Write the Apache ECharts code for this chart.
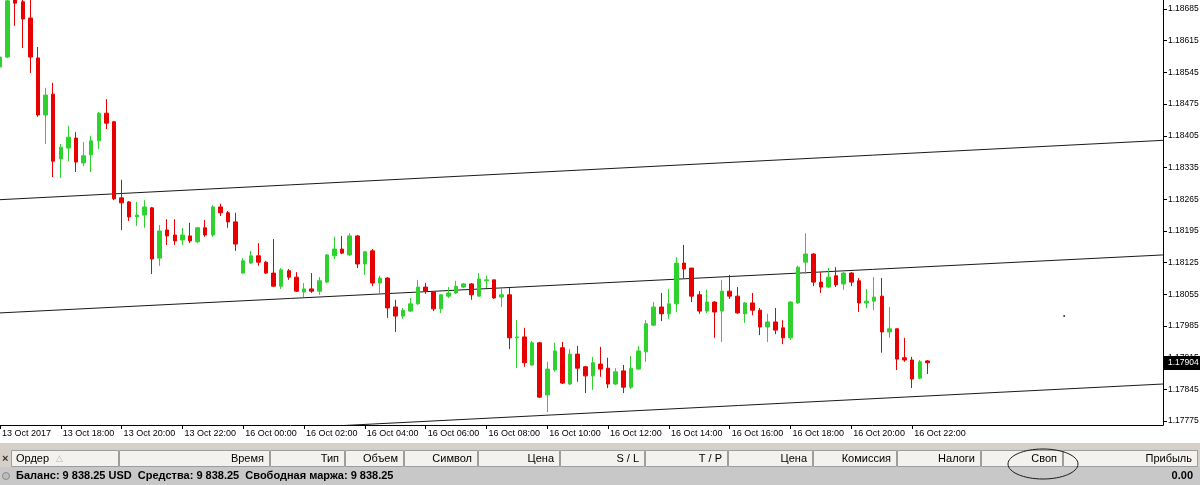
<!DOCTYPE html>
<html><head><meta charset="utf-8">
<script src="https://cdn.jsdelivr.net/npm/echarts@6/dist/echarts.min.js"></script>
<style>html,body{margin:0;padding:0;background:#fff;overflow:hidden}#c{width:1200px;height:485px}</style>
</head><body><div id="c"></div>
<script>
// ---- data (EURUSD, M15) ----
const open = [1.18557,1.18579,1.18705,1.18701,1.18665,1.18577,1.18451,1.18497,1.18354,1.18378,
1.18400,1.18345,1.18363,1.18394,1.18455,1.18436,1.18268,1.18259,1.18226,1.18230,
1.18246,1.18135,1.18197,1.18186,1.18175,1.18184,1.18171,1.18202,1.18186,1.18248,
1.18235,1.18215,1.18102,1.18124,1.18140,1.18126,1.18102,1.18073,1.18107,1.18093,
1.18060,1.18067,1.18062,1.18082,1.18140,1.18155,1.18142,1.18184,1.18122,1.18151,
1.18080,1.18091,1.18027,1.18007,1.18018,1.18034,1.18071,1.18060,1.18023,1.18051,
1.18058,1.18071,1.18078,1.18051,1.18085,1.18087,1.18049,1.18054,1.17959,1.17961,
1.17899,1.17948,1.17833,1.17888,1.17937,1.17857,1.17923,1.17895,1.17875,1.17901,
1.17892,1.17857,1.17886,1.17850,1.17890,1.17928,1.17987,1.18027,1.18012,1.18034,
1.18124,1.18113,1.18054,1.18018,1.18038,1.18018,1.18062,1.18051,1.18012,1.18036,
1.18020,1.17983,1.17994,1.17981,1.17959,1.18036,1.18126,1.18144,1.18082,1.18071,
1.18096,1.18078,1.18102,1.18085,1.18036,1.18040,1.18051,1.17972,1.17979,1.17915,
1.17910,1.17870,1.17908];
const close = [1.18579,1.18703,1.18698,1.18663,1.18579,1.18451,1.18495,1.18349,1.18380,1.18402,
1.18347,1.18361,1.18394,1.18455,1.18433,1.18266,1.18257,1.18226,1.18230,1.18248,
1.18133,1.18195,1.18184,1.18173,1.18186,1.18173,1.18202,1.18186,1.18248,1.18235,
1.18215,1.18166,1.18129,1.18140,1.18126,1.18102,1.18073,1.18109,1.18093,1.18062,
1.18067,1.18062,1.18085,1.18142,1.18155,1.18146,1.18184,1.18122,1.18149,1.18080,
1.18091,1.18025,1.18007,1.18020,1.18034,1.18071,1.18062,1.18023,1.18054,1.18058,
1.18073,1.18078,1.18054,1.18089,1.18087,1.18047,1.18054,1.17959,1.17961,1.17904,
1.17948,1.17828,1.17890,1.17930,1.17859,1.17923,1.17892,1.17875,1.17904,1.17890,
1.17857,1.17884,1.17850,1.17892,1.17930,1.17990,1.18027,1.18012,1.18034,1.18124,
1.18111,1.18051,1.18018,1.18038,1.18016,1.18062,1.18051,1.18014,1.18036,1.18020,
1.17983,1.17994,1.17976,1.17959,1.18038,1.18115,1.18144,1.18082,1.18071,1.18093,
1.18076,1.18102,1.18082,1.18036,1.18040,1.18049,1.17972,1.17979,1.17912,1.17910,
1.17868,1.17906,1.17904];
const high = [1.18634,1.18716,1.18709,1.18705,1.18705,1.18601,1.18511,1.18522,1.18387,1.18427,
1.18413,1.18391,1.18405,1.18458,1.18486,1.18438,1.18308,1.18261,1.18259,1.18263,
1.18248,1.18208,1.18221,1.18221,1.18202,1.18213,1.18204,1.18219,1.18252,1.18255,
1.18239,1.18235,1.18135,1.18151,1.18168,1.18129,1.18177,1.18113,1.18111,1.18104,
1.18080,1.18102,1.18093,1.18144,1.18182,1.18184,1.18190,1.18186,1.18151,1.18155,
1.18096,1.18093,1.18043,1.18025,1.18047,1.18087,1.18080,1.18062,1.18056,1.18071,
1.18085,1.18080,1.18080,1.18102,1.18096,1.18087,1.18069,1.18069,1.17998,1.17981,
1.17952,1.17950,1.17906,1.17948,1.17950,1.17934,1.17941,1.17897,1.17917,1.17939,
1.17915,1.17892,1.17899,1.17919,1.17941,1.17998,1.18038,1.18058,1.18067,1.18137,
1.18164,1.18113,1.18062,1.18065,1.18040,1.18087,1.18098,1.18071,1.18038,1.18058,
1.18025,1.18012,1.18025,1.17998,1.18040,1.18118,1.18190,1.18146,1.18104,1.18113,
1.18115,1.18104,1.18104,1.18091,1.18067,1.18093,1.18091,1.18027,1.17979,1.17959,
1.17917,1.17910,1.17910];
const low = [1.18557,1.18577,1.18648,1.18599,1.18544,1.18447,1.18387,1.18314,1.18312,1.18349,
1.18325,1.18338,1.18325,1.18376,1.18420,1.18263,1.18197,1.18217,1.18206,1.18202,
1.18100,1.18118,1.18164,1.18164,1.18164,1.18168,1.18168,1.18182,1.18182,1.18228,
1.18202,1.18151,1.18100,1.18122,1.18118,1.18100,1.18071,1.18067,1.18087,1.18060,
1.18049,1.18058,1.18054,1.18080,1.18133,1.18144,1.18140,1.18113,1.18098,1.18073,
1.18058,1.18003,1.17972,1.18001,1.18016,1.18032,1.18056,1.18018,1.18014,1.18047,
1.18056,1.18069,1.18043,1.18051,1.18069,1.18045,1.18027,1.17934,1.17892,1.17895,
1.17897,1.17826,1.17795,1.17884,1.17857,1.17855,1.17862,1.17837,1.17844,1.17873,
1.17848,1.17855,1.17837,1.17846,1.17888,1.17906,1.17985,1.17996,1.18001,1.18016,
1.18091,1.18038,1.18012,1.18014,1.17959,1.17950,1.18045,1.18012,1.17992,1.18009,
1.17965,1.17950,1.17967,1.17945,1.17954,1.18034,1.18100,1.18073,1.18058,1.18069,
1.18071,1.18065,1.18073,1.18016,1.18025,1.18020,1.17926,1.17959,1.17888,1.17906,
1.17848,1.17868,1.17879];
const priceTicks = [1.17775,1.17845,1.17915,1.17985,1.18055,1.18125,1.18195,1.18265,1.18335,1.18405,1.18475,1.18545,1.18615,1.18685];
const xTickLabels = ['13 Oct 2017','13 Oct 18:00','13 Oct 20:00','13 Oct 22:00','16 Oct 00:00','16 Oct 02:00','16 Oct 04:00','16 Oct 06:00','16 Oct 08:00','16 Oct 10:00','16 Oct 12:00','16 Oct 14:00','16 Oct 16:00','16 Oct 18:00','16 Oct 20:00','16 Oct 22:00'];
const barsPerLabel = 8;
const slotCount = 154;
const channelIdx = [0, 153];
const channelTop = [1.18264, 1.18395];
const channelMid = [1.18014, 1.18142];
const channelLow = [1.17727, 1.17857];
const lastPrice = 1.17904;
const markerDot = [140, 1.18007];
const tableHeaders = ['Ордер','Время','Тип','Объем','Символ','Цена','S / L','T / P','Цена','Комиссия','Налоги','Своп','Прибыль'];
const statusText = 'Баланс: 9 838.25 USD  Средства: 9 838.25  Свободная маржа: 9 838.25';
const profitText = '0.00';

// ---- categories (15-minute bars, weekend skipped) ----
const categories = [];
for (let i = 0; i < slotCount; i++) {
  let day, m;
  if (i < 32) { day = 13; m = 16 * 60 + 15 * i; } else { day = 16; m = 15 * (i - 32); }
  const h = Math.floor(m / 60) % 24, mm = m % 60;
  categories.push(day + ' Oct ' + String(h).padStart(2, '0') + ':' + String(mm).padStart(2, '0'));
}
const candles = open.map((o, i) => [o, close[i], low[i], high[i]]);

// ---- layout of terminal panel ----
const colEdges = [11,119,270,345,404,478,560,645,728,813,897,981,1063,1198];
const UI = "'Liberation Sans', Arial, sans-serif";
const graphics = [];
graphics.push({type:'rect', shape:{x:0,y:443,width:1200,height:42}, style:{fill:'#d4d0c8'}, silent:true});
graphics.push({type:'text', style:{x:2,y:459,text:'×',font:'bold 11px '+UI,fill:'#333',textVerticalAlign:'middle'}});
for (let k = 0; k < tableHeaders.length; k++) {
  const x0 = colEdges[k], x1 = colEdges[k+1];
  graphics.push({type:'rect', shape:{x:x0+0.5,y:450.5,width:x1-x0-1,height:16}, style:{fill:'#f3f2ee',stroke:'#9d9d9d',lineWidth:1}, silent:true});
  if (k === 0) {
    graphics.push({type:'text', style:{x:x0+5,y:459,text:tableHeaders[k],font:'11px '+UI,fill:'#000',textVerticalAlign:'middle'}});
    graphics.push({type:'text', style:{x:x0+45,y:459,text:'△',font:'9px '+UI,fill:'#b8b8b8',textVerticalAlign:'middle'}});
  } else {
    graphics.push({type:'text', style:{x:x1-6,y:459,text:tableHeaders[k],font:'11px '+UI,fill:'#000',textAlign:'right',textVerticalAlign:'middle'}});
  }
}
graphics.push({type:'rect', shape:{x:0,y:467,width:1200,height:18}, style:{fill:'#c8c8c8'}, silent:true});
graphics.push({type:'circle', shape:{cx:6,cy:476,r:3.5}, style:{fill:'#bdbdbd',stroke:'#8a8a8a',lineWidth:1}});
graphics.push({type:'text', style:{x:16,y:476,text:statusText,font:'bold 11px '+UI,fill:'#000',textVerticalAlign:'middle'}});
graphics.push({type:'text', style:{x:1193,y:476,text:profitText,font:'bold 11px '+UI,fill:'#000',textAlign:'right',textVerticalAlign:'middle'}});
graphics.push({type:'ellipse', shape:{cx:1043,cy:464,rx:35,ry:15}, style:{fill:'none',stroke:'#1a1a1a',lineWidth:1}});

const AXF = "'Liberation Sans', Arial, sans-serif";
const chart = echarts.init(document.getElementById('c'), null, {renderer:'canvas'});
chart.setOption({
  animation: false,
  backgroundColor: '#ffffff',
  grid: {left:0, right:37, top:0, bottom:60, containLabel:false, outerBoundsMode:'none'},
  xAxis: {
    type:'category', data:categories, boundaryGap:false,
    axisLine:{show:true, lineStyle:{color:'#000', width:1}},
    axisTick:{show:true, length:4, inside:false, lineStyle:{color:'#000'},
      interval:(idx)=> idx % barsPerLabel === 0 && idx / barsPerLabel < xTickLabels.length},
    axisLabel:{show:true, interval:0, align:'left', margin:4, color:'#000', fontSize:9, fontFamily:AXF, padding:[0,0,0,2],
      formatter:(v, idx)=> (idx % barsPerLabel === 0 && idx / barsPerLabel < xTickLabels.length) ? xTickLabels[idx / barsPerLabel] : ''},
    splitLine:{show:false}
  },
  yAxis: {
    type:'value', position:'right', scale:true, min:1.177665, max:1.187049,
    axisLine:{show:true, lineStyle:{color:'#000', width:1}},
    axisTick:{show:true, length:4, lineStyle:{color:'#000'}, customValues:priceTicks},
    axisLabel:{show:true, customValues:priceTicks, margin:5, color:'#000', fontSize:8.5,
      fontFamily:AXF, formatter:(v)=>v.toFixed(5)},
    splitLine:{show:false}
  },
  graphic: graphics,
  series: [
    {type:'line', data:[[channelIdx[0],channelTop[0]],[channelIdx[1],channelTop[1]]], symbol:'none', silent:true, clip:true, lineStyle:{color:'#1a1a1a', width:1}, z:1},
    {type:'line', data:[[channelIdx[0],channelMid[0]],[channelIdx[1],channelMid[1]]], symbol:'none', silent:true, clip:true, lineStyle:{color:'#1a1a1a', width:1}, z:1},
    {type:'line', data:[[channelIdx[0],channelLow[0]],[channelIdx[1],channelLow[1]]], symbol:'none', silent:true, clip:true, lineStyle:{color:'#1a1a1a', width:1}, z:1},
    {type:'candlestick', data:candles, barWidth:4, clip:true, z:3,
      itemStyle:{color:'#2fd12f', color0:'#e80000', borderColor:'#2fd12f', borderColor0:'#e80000', borderWidth:1}},
    {type:'scatter', data:[markerDot], symbol:'circle', symbolSize:2, itemStyle:{color:'#000'}, silent:true, z:2}
  ]
});
// current price tag on the price scale, positioned through the y axis scale
const yLast = chart.convertToPixel({yAxisIndex:0}, lastPrice);
const xAxisEnd = chart.convertToPixel({xAxisIndex:0}, slotCount - 1);
graphics.push({type:'rect', z:100, shape:{x:xAxisEnd+1, y:Math.round(yLast)-7, width:1200-xAxisEnd-1, height:14}, style:{fill:'#000'}});
graphics.push({type:'text', z:101, style:{x:xAxisEnd+5, y:Math.round(yLast), text:lastPrice.toFixed(5), font:'8.5px '+AXF, fill:'#fff', textVerticalAlign:'middle'}});
chart.setOption({graphic: graphics});
</script></body></html>
